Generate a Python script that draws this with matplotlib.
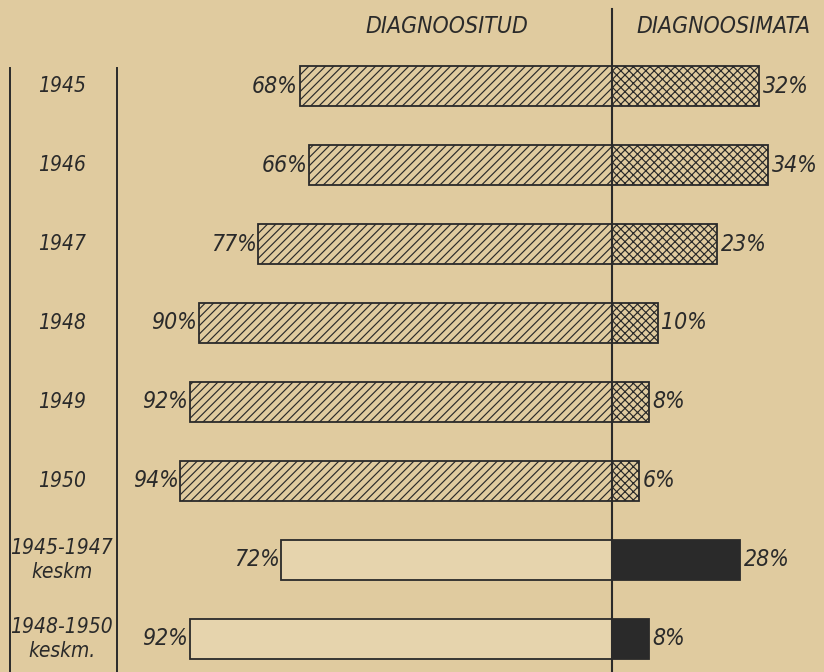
import numpy as np
import matplotlib.pyplot as plt

# data
labels = ['1945', '1946', '1947', '1948', '1949', '1950', '1945-1947\nkeskm', '1948-1950\nkeskm.']
diagnoositud = [68, 66, 77, 90, 92, 94, 72, 92]
diagnoosimata = [32, 34, 23, 10, 8, 6, 28, 8]
is_average = [False, False, False, False, False, False, True, True]

bg = '#e0cb9f'
ink = '#2a2a2a'

plt.rcParams['hatch.linewidth'] = 0.85
plt.rcParams['hatch.color'] = ink

fig = plt.figure(figsize=(8.24, 6.72), dpi=100, facecolor=bg)
ax = fig.add_axes([0, 0, 1, 1])
ax.set_facecolor(bg)

# 1 % = ~4.59 px, zero line at x=612 px
ax.set_xlim(-133.3, 46.2)
ax.set_ylim(7.42, -1.09)
ax.axis('off')

y = np.arange(len(labels))
font = dict(family='DejaVu Sans', style='italic', stretch='condensed', color=ink)

for i in range(len(labels)):
    if is_average[i]:
        ax.barh(y[i], -diagnoositud[i], height=0.5, color='#e6d4ad', edgecolor=ink, linewidth=1.3)
        ax.barh(y[i], diagnoosimata[i], height=0.5, color=ink, edgecolor=ink, linewidth=1.3)
    else:
        ax.barh(y[i], -diagnoositud[i], height=0.5, color=bg, edgecolor=ink, linewidth=1.3, hatch='////')
        ax.barh(y[i], diagnoosimata[i], height=0.5, color=bg, edgecolor=ink, linewidth=1.3, hatch='xxxx')
    ax.text(-diagnoositud[i] - 0.4, y[i], f'{diagnoositud[i]}%', ha='right', va='center', fontsize=16.5, **font)
    ax.text(diagnoosimata[i] + 0.8, y[i], f'{diagnoosimata[i]}%', ha='left', va='center', fontsize=16.5, **font)
    ax.text(0.075, y[i], labels[i], transform=ax.get_yaxis_transform(), ha='center', va='center',
            fontsize=15, linespacing=1.25, **font)

# zero line and left frame
ax.plot([0, 0], [-0.97, 7.42], color=ink, linewidth=1.5)
ax.plot([0.012, 0.012], [-0.23, 7.42], color=ink, linewidth=1.4, transform=ax.get_yaxis_transform())
ax.plot([0.142, 0.142], [-0.23, 7.42], color=ink, linewidth=1.4, transform=ax.get_yaxis_transform())

ax.text(-36, -0.76, 'DIAGNOOSITUD', ha='center', va='center', fontsize=16.5, **font)
ax.text(24.4, -0.76, 'DIAGNOOSIMATA', ha='center', va='center', fontsize=16.5, **font)

fig.savefig('out.png', dpi=100, facecolor=bg)
